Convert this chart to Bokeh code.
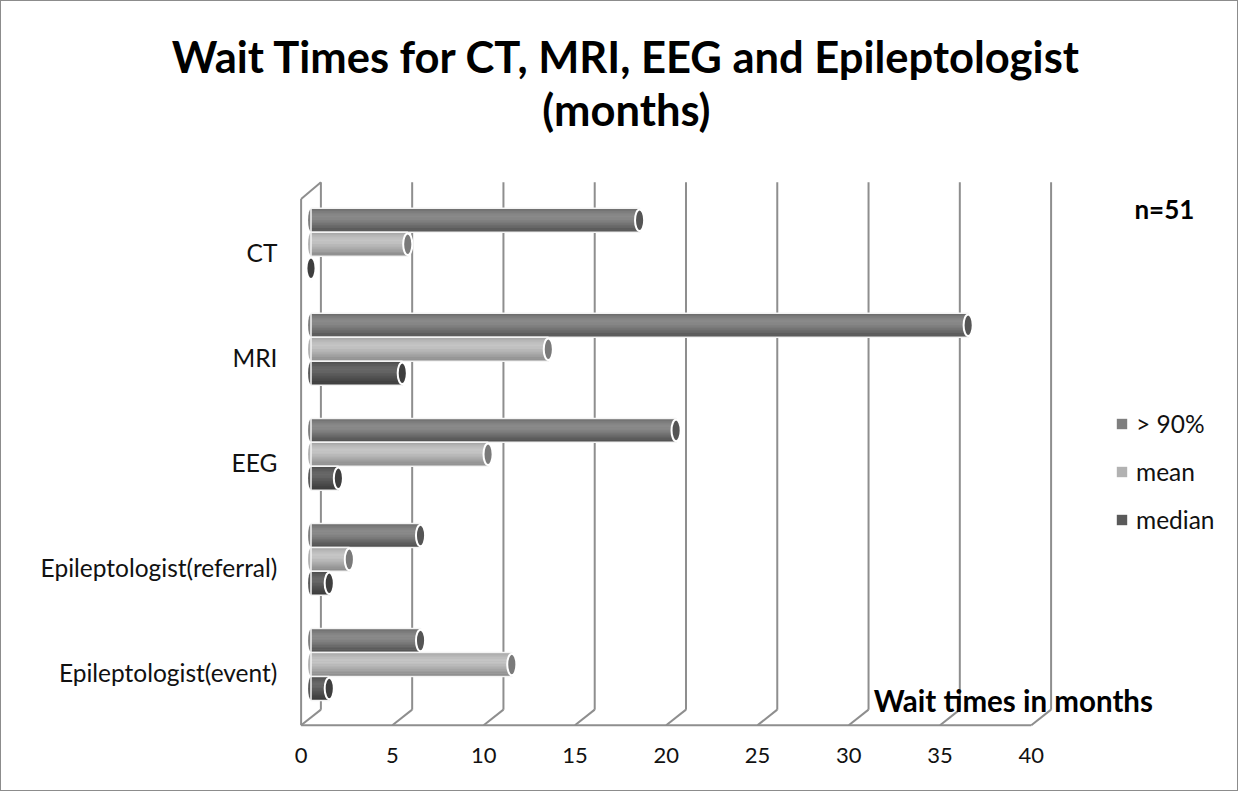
from bokeh.plotting import figure
from bokeh.models import (Range1d, LinearAxis, FixedTicker, Label, ColumnDataSource,
                          Legend, LegendItem)
from bokeh.core.properties import value
from bokeh.transform import dodge
from bokeh.embed import file_html
from bokeh.resources import INLINE

# ---------------- data ----------------
categories = ["CT", "MRI", "EEG", "Epileptologist(referral)", "Epileptologist(event)"]
series_names = ["> 90%", "mean", "median"]
p90_values = [18.0, 36.0, 20.0, 6.0, 6.0]
mean_values = [5.3, 13.0, 9.7, 2.1, 11.0]
median_values = [0.0, 5.0, 1.5, 1.0, 1.0]
x_ticks = [0, 5, 10, 15, 20, 25, 30, 35, 40]
title_line1 = "Wait Times for CT, MRI, EEG and Epileptologist"
title_line2 = "(months)"
x_title = "Wait times in months"
note_text = "n=51"

# ---------------- geometry / style ----------------
FONT = "Lato"
TXT = "#111111"
GRID = "#8e8e8e"
n = len(categories)
cat_pos = [n - 1 - i for i in range(n)]          # CT on top
H = 0.228                                        # bar thickness (y units)
offsets = [H, 0.0, -H]
DX = 0.542                                       # 3D depth in x units
Y_BACK_TOP, Y_BACK_BOT, Y_FRONT_BOT, Y_FRONT_TOP = 4.589, -0.430, -0.579, 4.43
ML, MR, MT, MB = 0, 0, 0, 63
FW, FH = 1236, 726
PXU = 931 / 51.0
X0 = -309.5 / PXU
X1 = X0 + FW / PXU
Y0, Y1 = -0.6, 6.31
PYU = FH / (Y1 - Y0)
YLAB = 0.080
SX, SY = 1238 / 1252, 791 / 805


def ax(ref):  # reference picture x (px) -> data x
    return X0 + (ref * SX - 1 - ML) / PXU


def ay(ref):  # reference picture y (px) -> data y
    return Y1 - (ref * SY - 1 - MT) / PYU


stops = [
    ["#6c6c6c", "#7e7e7e", "#8b8b8b", "#898989", "#7d7d7d", "#6d6d6d", "#5d5d5d", "#4f4f4f"],
    ["#a6a6a6", "#b9b9b9", "#c6c6c6", "#c3c3c3", "#b7b7b7", "#a7a7a7", "#979797", "#898989"],
    ["#4e4e4e", "#5e5e5e", "#696969", "#666666", "#5a5a5a", "#4e4e4e", "#434343", "#393939"],
]
base_colors = ["#7f7f7f", "#b2b2b2", "#5a5a5a"]
cap_colors = ["#555555", "#7a7a7a", "#3e3e3e"]


def smooth(st, k=16):
    vals = [int(c[1:3], 16) for c in st]
    out = []
    for j in range(k):
        t = j / (k - 1) * (len(vals) - 1)
        i = min(int(t), len(vals) - 2)
        f = t - i
        g = round(vals[i] * (1 - f) + vals[i + 1] * f)
        out.append("#%02x%02x%02x" % (g, g, g))
    return out


p = figure(frame_width=FW, frame_height=FH,
           x_range=Range1d(X0, X1), y_range=Range1d(Y0, Y1),
           min_border_left=ML, min_border_right=MR, min_border_top=MT, min_border_bottom=MB,
           x_axis_location=None, y_axis_location=None,
           output_backend="svg", toolbar_location=None)
p.outline_line_color = None
p.background_fill_color = "white"
p.border_fill_color = "white"
for g in p.grid:
    g.visible = False
p.styles = {"border": "1px solid #8c8c8c"}

# ---------------- 3D frame ----------------
bx = [v + DX for v in x_ticks]
p.segment(x0=bx, y0=[Y_BACK_BOT] * len(bx), x1=bx, y1=[Y_BACK_TOP] * len(bx),
          line_color=GRID, line_width=2)
p.segment(x0=bx, y0=[Y_BACK_BOT] * len(bx), x1=[v - DX for v in x_ticks],
          y1=[Y_FRONT_BOT] * len(bx), line_color=GRID, line_width=2)
p.segment(x0=[x_ticks[0] - DX, x_ticks[0] - DX, x_ticks[0] - DX],
          y0=[Y_FRONT_BOT, Y_FRONT_BOT, Y_FRONT_TOP],
          x1=[x_ticks[-1] - DX, x_ticks[0] - DX, x_ticks[0] + DX],
          y1=[Y_FRONT_BOT, Y_FRONT_TOP, Y_BACK_TOP],
          line_color=GRID, line_width=2)

# ---------------- cylinder bars ----------------
legend_items = []
all_values = [p90_values, mean_values, median_values]
for s, (name, vals, off) in enumerate(zip(series_names, all_values, offsets)):
    src = ColumnDataSource(dict(y=[c + off for c in cat_pos], right=vals,
                                left=[0.0] * len(vals)))
    p.ellipse(x="left", y="y", width=0.32, height=H * 0.95, source=src,
              fill_color=base_colors[s], line_color=None)
    base = p.hbar(y="y", right="right", left=0, height=H, source=src,
                  fill_color=base_colors[s], line_color=None)
    legend_items.append(LegendItem(label=name, renderers=[base]))
    prof = smooth(stops[s])
    k = len(prof)
    for j, col in enumerate(prof):
        p.hbar(y=dodge("y", H / 2 - (j + 0.5) * H / k), right="right", left=0,
               height=H / k * 1.08, source=src, fill_color=col, line_color=None)
    p.hbar(y="y", right="right", left=0, height=H, source=src,
           fill_color=None, line_color="#f4f4f4", line_width=1.5)
    p.ellipse(x="right", y="y", width=0.5, height=H * 0.9, source=src,
              fill_color=cap_colors[s], line_color="white", line_width=2)

legend = Legend(items=legend_items, location=(1114, 193), orientation="vertical")
legend.border_line_color = None
legend.background_fill_alpha = 0
legend.label_text_font = FONT
legend.label_text_font_size = "24.5px"
legend.label_text_color = TXT
legend.glyph_width = 13
legend.glyph_height = 13
legend.label_height = 30
legend.spacing = 18
legend.padding = 0
legend.margin = 0
legend.label_standoff = 8
p.add_layout(legend, "center")

# ---------------- axes ----------------
p.extra_x_ranges = {"front": Range1d(X0 + DX, X1 + DX)}
xaxis = LinearAxis(x_range_name="front", ticker=FixedTicker(ticks=x_ticks))
xaxis.axis_line_color = None
xaxis.major_tick_line_color = None
xaxis.minor_tick_line_color = None
xaxis.major_label_standoff = 14
xaxis.major_label_text_font = FONT
xaxis.major_label_text_font_size = "22px"
xaxis.major_label_text_color = TXT
p.add_layout(xaxis, "below")

# category labels (left of the bars)
cat_src = ColumnDataSource(dict(y=[c - YLAB for c in cat_pos], label=categories,
                                x=[ax(280)] * n))
p.text(x="x", y="y", text="label", source=cat_src, text_font=value(FONT),
       text_font_size=value("24.5px"), text_color=TXT, text_align="right",
       text_baseline="middle")

# ---------------- texts ----------------
title_kw = dict(text_font=FONT, text_font_size="43.5px", text_font_style="bold",
                text_color="#000000", text_align="center", text_baseline="alphabetic")
p.add_layout(Label(x=ax(633), y=ay(56), text=title_line1, **title_kw))
p.add_layout(Label(x=ax(633), y=ay(110), text=title_line2, **title_kw))

p.add_layout(Label(x=ax(883), y=ay(712), text=x_title, text_font=FONT, text_font_size="29.5px",
                   text_font_style="bold", text_color="#000000", text_baseline="middle"))
p.add_layout(Label(x=ax(1177), y=ay(212), text=note_text, text_font=FONT, text_font_size="26px",
                   text_font_style="bold", text_color="#000000", text_baseline="middle",
                   text_align="center"))

open("out.html", "w").write(file_html(p, INLINE))
